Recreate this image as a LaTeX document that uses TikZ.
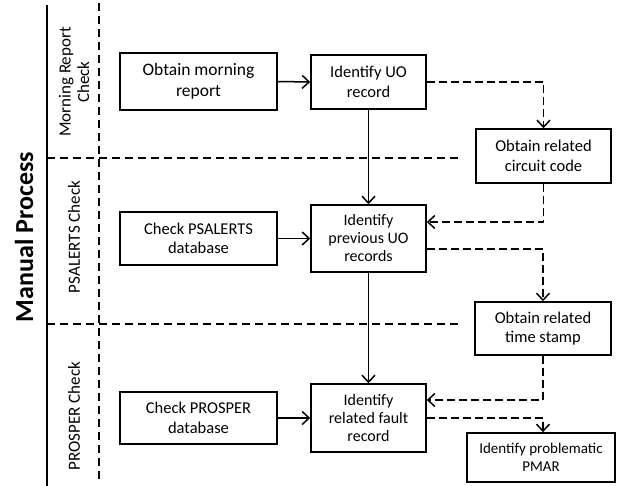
\documentclass[tikz,border=0pt]{standalone}
\usepackage{fontspec}
\setmainfont{Carlito}
\usetikzlibrary{arrows.meta}
\begin{document}
\begin{tikzpicture}[x=1pt,y=-1pt,
  box/.style={draw,line width=1.5pt,inner sep=2pt,align=center,font=\fontsize{16.5}{19.5}\selectfont},
  conn/.style={line width=1.5pt,-{Straight Barb[length=7pt,width=13pt,line width=1.5pt]}},
  dconn/.style={conn,dash pattern=on 8pt off 4pt},
  lane/.style={line width=1.4pt,dash pattern=on 8pt off 5pt},
  lanelabel/.style={rotate=90,align=center,font=\fontsize{17}{18.5}\selectfont}]
\useasboundingbox (0,0) rectangle (622,486);
% lanes
\draw[line width=1.5pt] (47,5) -- (47,486);
\draw[lane] (99,3) -- (99,481);
\draw[lane] (47,158) -- (458,158);
\draw[lane] (47,324) -- (458,324);
\node[rotate=90,font=\fontsize{26}{30}\selectfont\bfseries] (mp) at (24,237) {Manual Process};
\node[lanelabel] (l1) at (74,82) {Morning Report\\Check};
\node[lanelabel] (l2) at (74,237) {PSALERTS Check};
\node[lanelabel] (l3) at (74,416) {PROSPER Check};
% boxes
\node[box,minimum width=157pt,minimum height=57pt,font=\fontsize{17.5}{21}\selectfont] (m1) at (198.5,81.5) {Obtain morning\\report};
\node[box,minimum width=115pt,minimum height=54pt] (u1) at (368.5,82) {Identify UO\\record};
\node[box,minimum width=135pt,minimum height=54pt] (c1) at (543.5,156) {Obtain related\\circuit code};
\node[box,minimum width=157pt,minimum height=53pt] (p1) at (198.5,238.5) {Check PSALERTS\\database};
\node[box,minimum width=115pt,minimum height=67pt,font=\fontsize{16}{18}\selectfont] (u2) at (368.5,238.5) {Identify\\previous UO\\records};
\node[box,minimum width=136pt,minimum height=53pt] (t1) at (543,328.5) {Obtain related\\time stamp};
\node[box,minimum width=157pt,minimum height=52pt] (r1) at (198.5,418) {Check PROSPER\\database};
\node[box,minimum width=115pt,minimum height=68pt,font=\fontsize{16}{18}\selectfont] (u3) at (368.5,418) {Identify\\related fault\\record};
\node[box,minimum width=148pt,minimum height=49pt,font=\fontsize{15}{17.5}\selectfont] (pm) at (541,457.5) {Identify problematic\\PMAR};
% connectors
\draw[conn] (m1.east) -- (u1.west);
\draw[dconn] (u1.east) -| (c1.north);
\draw[conn] (u1.south) -- (u2.north);
\draw[dconn] (c1.south) |- ([yshift=16.5pt]u2.east);
\draw[conn] (p1.east) -- (u2.west);
\draw[dconn] ([yshift=-10.5pt]u2.east) -| (t1.north);
\draw[conn] (u2.south) -- (u3.north);
\draw[dconn] (t1.south) |- ([yshift=18pt]u3.east);
\draw[conn] (r1.east) -- (u3.west);
\draw[dconn] (u3.east) -| ([xshift=2pt]pm.north);
\end{tikzpicture}
\end{document}
